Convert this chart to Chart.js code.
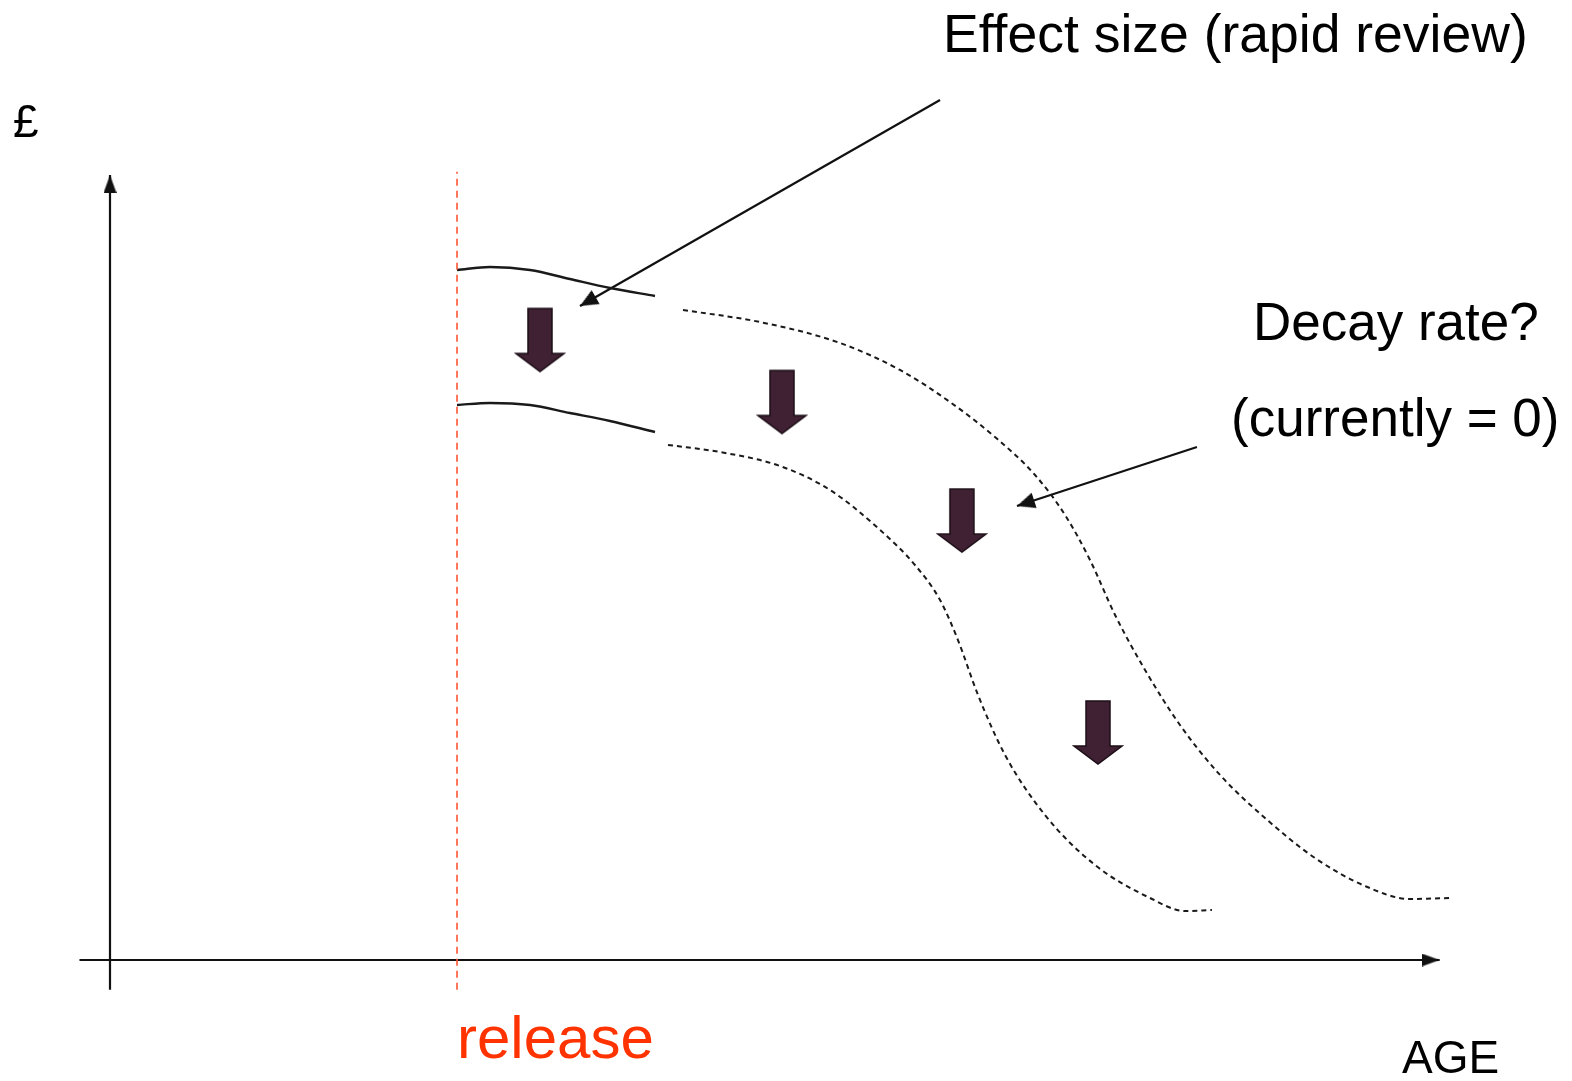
<!DOCTYPE html>
<html lang="en">
<head>
<meta charset="UTF-8">
<title>Effect size and decay after release</title>
<script src="https://cdn.jsdelivr.net/npm/chart.js"></script>
<style>
    html, body { margin: 0; padding: 0; background: #FFFFFF; }
    .wrap { position: relative; width: 1572px; height: 1081px; }
</style>
</head>
<body>
<div class="wrap"><canvas id="chart" width="1572" height="1081"></canvas></div>
<script>
    // AGE on x and £ on y, both in arbitrary 0-100 units (schematic)
    const releaseAge = 26.15;
    const releaseGBP = [-3.8, 100.4];

    const xAxisAge = [-2.3, 100.2];
    const yAxisGBP = [-3.8, 100];

    // upper band edge: solid part (evidence), dashed part (extrapolated)
    const upperSolidAge = [26.15, 28.64, 31.65, 34.66, 37.68, 41.07];
    const upperSolidGBP = [87.9, 88.28, 87.9, 86.75, 85.61, 84.59];
    const upperDashAge = [43.18, 48.98, 55.01, 59.53, 63.30, 66.69, 69.71, 71.97, 73.85, 75.74, 78.00, 80.63, 83.65, 87.04, 90.81, 94.57, 97.96, 101.13];
    const upperDashGBP = [82.80, 81.27, 78.60, 75.16, 71.08, 66.62, 61.78, 56.69, 50.96, 43.95, 36.94, 29.94, 23.57, 18.09, 12.99, 9.43, 7.77, 7.90];

    // lower band edge
    const lowerSolidAge = [26.15, 28.64, 31.65, 34.66, 37.68, 41.07];
    const lowerSolidGBP = [70.70, 70.96, 70.70, 69.68, 68.66, 67.26];
    const lowerDashAge = [42.05, 45.97, 50.49, 54.26, 58.03, 60.66, 62.55, 63.90, 65.41, 67.45, 70.46, 74.23, 78.37, 81.01, 83.04];
    const lowerDashGBP = [65.61, 64.71, 62.93, 59.87, 54.78, 50.32, 45.86, 40.76, 33.76, 26.11, 18.47, 12.10, 7.90, 6.24, 6.37];

    // big down arrows between the two edges
    const dropAge = [32.40, 50.64, 64.20, 74.45];
    const dropGBP = [78.92, 71.02, 55.92, 28.92];

    // annotation pointers (start -> end)
    const effectPointerAge = [62.55, 35.42];
    const effectPointerGBP = [109.55, 83.31];
    const decayPointerAge = [81.91, 68.35];
    const decayPointerGBP = [65.35, 57.83];

    function pts(xs, ys) {
        return xs.map((x, i) => ({ x: x, y: ys[i] }));
    }

    // small arrowhead, tip in the middle of the canvas, pointing up
    function makeHead(w, h) {
        const c = document.createElement('canvas');
        c.width = w;
        c.height = h * 2;
        const g = c.getContext('2d');
        g.fillStyle = '#111111';
        g.beginPath();
        g.moveTo(w / 2, h);
        g.lineTo(w, h * 2);
        g.lineTo(0, h * 2);
        g.closePath();
        g.fill();
        return c;
    }

    // fat block arrow pointing down
    function makeDrop() {
        const c = document.createElement('canvas');
        c.width = 52;
        c.height = 68;
        const g = c.getContext('2d');
        g.fillStyle = '#3F2133';
        g.strokeStyle = '#1C0E16';
        g.lineWidth = 1.5;
        g.beginPath();
        g.moveTo(14, 2);
        g.lineTo(38, 2);
        g.lineTo(38, 47);
        g.lineTo(50, 47);
        g.lineTo(26, 65);
        g.lineTo(2, 47);
        g.lineTo(14, 47);
        g.closePath();
        g.fill();
        g.stroke();
        return c;
    }

    const axisHead = makeHead(13, 18);
    const pointerHead = makeHead(16, 18);
    const dropImg = makeDrop();

    function lastOnly(size) {
        return c => c.dataIndex === c.dataset.data.length - 1 ? size : 0;
    }

    function headRotation(c) {
        const d = c.dataset.data;
        const i = c.dataIndex;
        if (i === 0) return 0;
        const xs = c.chart.scales.x, ys = c.chart.scales.y;
        const dx = xs.getPixelForValue(d[i].x) - xs.getPixelForValue(d[i - 1].x);
        const dy = ys.getPixelForValue(d[i].y) - ys.getPixelForValue(d[i - 1].y);
        return Math.atan2(dy, dx) * 180 / Math.PI + 90;
    }

    function arrowLine(data, head) {
        return {
            data: data,
            borderColor: '#111111',
            borderWidth: 2.2,
            pointStyle: head,
            pointRadius: lastOnly(10),
            pointRotation: headRotation,
            tension: 0,
            clip: false
        };
    }

    function curve(data, dashed) {
        return {
            data: data,
            borderColor: '#1A1A1A',
            borderWidth: dashed ? 2 : 2.4,
            borderDash: dashed ? [5, 4] : [],
            pointRadius: 0,
            cubicInterpolationMode: 'monotone',
            clip: false
        };
    }

    const labels = [
        { text: 'Effect size (rapid review)', x: 62.77, y: 115.67, size: 53.5, color: '#000000' },
        { text: 'Decay rate?', x: 86.13, y: 78.98, size: 53, color: '#000000' },
        { text: '(currently = 0)', x: 84.48, y: 66.75, size: 53, color: '#000000' },
        { text: 'release', x: releaseAge, y: -12.5, size: 60, color: '#FF3300' },
        { text: 'AGE', x: 97.36, y: -14.39, size: 46, color: '#000000' },
        { text: '£', x: -7.31, y: 104.84, size: 46, color: '#000000' }
    ];

    const textPlugin = {
        id: 'schemeText',
        afterDatasetsDraw(chart) {
            const ctx = chart.ctx;
            const xs = chart.scales.x, ys = chart.scales.y;
            ctx.save();
            ctx.textBaseline = 'alphabetic';
            ctx.textAlign = 'left';
            labels.forEach(l => {
                ctx.font = l.size + 'px "Liberation Sans", Arial, sans-serif';
                ctx.fillStyle = l.color;
                ctx.fillText(l.text, xs.getPixelForValue(l.x), ys.getPixelForValue(l.y));
            });
            ctx.restore();
        }
    };

    const ctx = document.getElementById('chart').getContext('2d');
    const chart = new Chart(ctx, {
        type: 'line',
        data: {
            datasets: [
                {
                    data: pts([releaseAge, releaseAge], releaseGBP),
                    borderColor: '#FF5533',
                    borderWidth: 1.6,
                    borderDash: [7, 5],
                    pointRadius: 0,
                    clip: false
                },
                arrowLine(pts(xAxisAge, [0, 0]), axisHead),
                arrowLine(pts([0, 0], yAxisGBP), axisHead),
                curve(pts(upperSolidAge, upperSolidGBP), false),
                curve(pts(upperDashAge, upperDashGBP), true),
                curve(pts(lowerSolidAge, lowerSolidGBP), false),
                curve(pts(lowerDashAge, lowerDashGBP), true),
                arrowLine(pts(effectPointerAge, effectPointerGBP), pointerHead),
                arrowLine(pts(decayPointerAge, decayPointerGBP), pointerHead),
                {
                    data: pts(dropAge, dropGBP),
                    showLine: false,
                    pointStyle: dropImg,
                    pointRadius: 30,
                    clip: false
                }
            ]
        },
        options: {
            responsive: false,
            animation: false,
            events: [],
            layout: { padding: { left: 110, right: 135, top: 175, bottom: 121 } },
            scales: {
                x: { type: 'linear', min: 0, max: 100, display: false },
                y: { type: 'linear', min: 0, max: 100, display: false }
            },
            plugins: {
                legend: { display: false },
                tooltip: { enabled: false }
            }
        },
        plugins: [textPlugin]
    });
</script>
</body>
</html>
